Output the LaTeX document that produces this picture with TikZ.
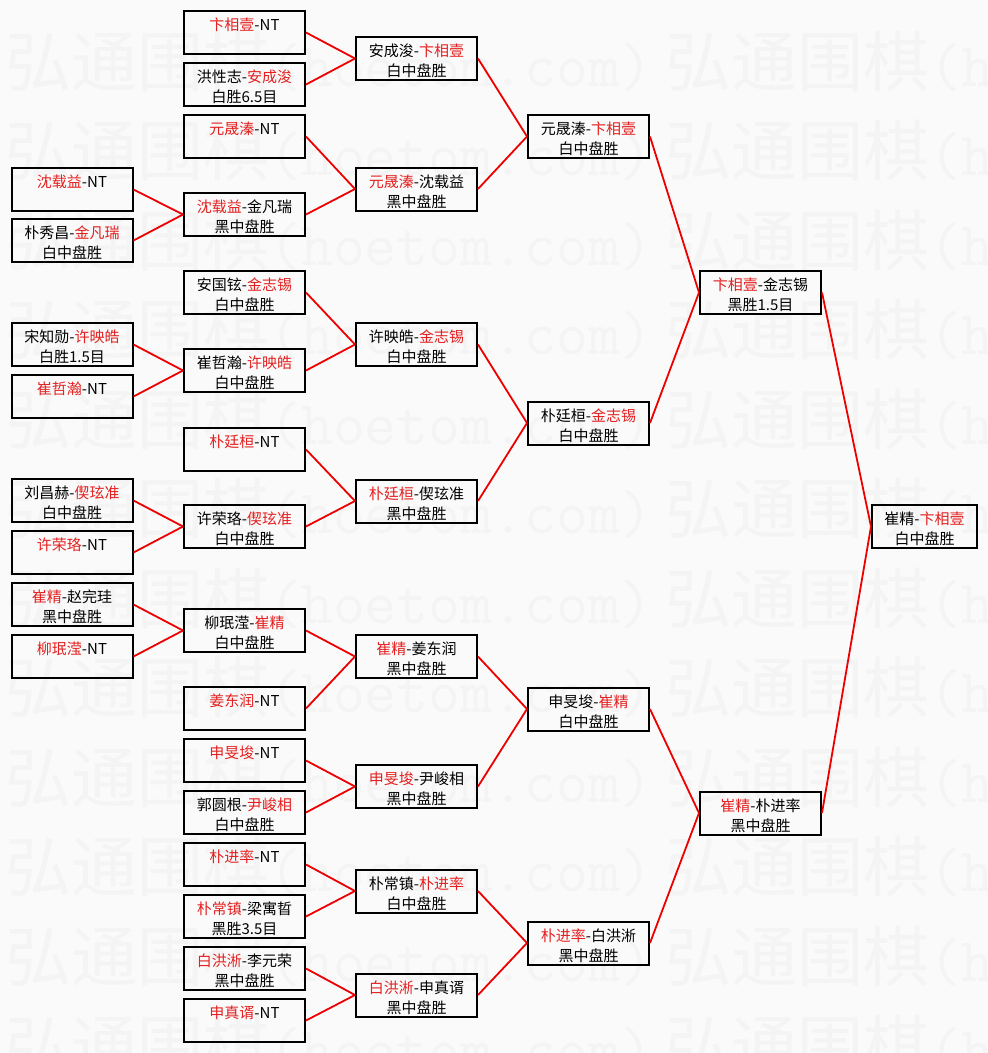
\documentclass[tikz,border=0pt]{standalone}
\usepackage{fontspec}
\setmainfont{Noto Sans CJK SC}
\newfontfamily\wmcjk{Noto Sans CJK SC}
\definecolor{nred}{RGB}{228,32,32}
\definecolor{lred}{RGB}{238,0,0}
\definecolor{bgc}{RGB}{250,250,250}
\definecolor{wmc}{RGB}{244,244,244}
\newcommand\R[1]{\textcolor{nred}{#1}}
\newcommand\two[2]{\rule{0pt}{18pt}#1\\\rule[-2pt]{0pt}{2pt}#2}
\newcommand\wmtext{{\wmcjk\fontsize{66}{70}\selectfont 弘通围棋}{\ttfamily\fontsize{62}{66}\selectfont (hoetom.com)}}
\begin{document}
\begin{tikzpicture}[x=1pt,y=-1pt,
  box/.style={draw=black, line width=2pt, minimum width=121pt, minimum height=43pt,
    inner sep=0pt, align=center, font=\fontsize{15}{20}\selectfont},
  link/.style={draw=lred, line width=1.8pt},
  wm/.style={anchor=base west, text=wmc, inner sep=0pt}]
\fill[bgc] (0,0) rectangle (988,1053);
\useasboundingbox (0,0) rectangle (988,1053);
\begin{scope}
\clip (0,0) rectangle (988,1053);
\foreach \k in {0,...,11}{
  \node[wm] (wma\k) at (5,{86+89.5*\k}) {\wmtext};
  \node[wm] (wmb\k) at (665,{86+89.5*\k}) {\wmtext};
}
\end{scope}
% column 1
\node[box] (a1) at (72,189.5) {\two{\R{沈载益}-NT}{}};
\node[box] (a2) at (72,240.5) {\two{朴秀昌-\R{金凡瑞}}{白中盘胜}};
\node[box] (a3) at (72,344.5) {\two{宋知勋-\R{许映皓}}{白胜1.5目}};
\node[box] (a4) at (72,396.5) {\two{\R{崔哲瀚}-NT}{}};
\node[box] (a5) at (72,500.5) {\two{刘昌赫-\R{偰玹准}}{白中盘胜}};
\node[box] (a6) at (72,552.5) {\two{\R{许荣珞}-NT}{}};
\node[box] (a7) at (72,604.5) {\two{\R{崔精}-赵完珪}{黑中盘胜}};
\node[box] (a8) at (72,656.5) {\two{\R{柳珉滢}-NT}{}};
% column 2
\node[box] (b1) at (244.5,32.5) {\two{\R{卞相壹}-NT}{}};
\node[box] (b2) at (244.5,84.5) {\two{洪性志-\R{安成浚}}{白胜6.5目}};
\node[box] (b3) at (244.5,136.5) {\two{\R{元晟溱}-NT}{}};
\node[box] (b4) at (244.5,214.5) {\two{\R{沈载益}-金凡瑞}{黑中盘胜}};
\node[box] (b5) at (244.5,292.5) {\two{安国铉-\R{金志锡}}{白中盘胜}};
\node[box] (b6) at (244.5,370.5) {\two{崔哲瀚-\R{许映皓}}{白中盘胜}};
\node[box] (b7) at (244.5,449.5) {\two{\R{朴廷桓}-NT}{}};
\node[box] (b8) at (244.5,526.5) {\two{许荣珞-\R{偰玹准}}{白中盘胜}};
\node[box] (b9) at (244.5,630.5) {\two{柳珉滢-\R{崔精}}{白中盘胜}};
\node[box] (b10) at (244.5,708.5) {\two{\R{姜东润}-NT}{}};
\node[box] (b11) at (244.5,760.5) {\two{\R{申旻埈}-NT}{}};
\node[box] (b12) at (244.5,812.5) {\two{郭圆根-\R{尹峻相}}{白中盘胜}};
\node[box] (b13) at (244.5,864.5) {\two{\R{朴进率}-NT}{}};
\node[box] (b14) at (244.5,916.5) {\two{\R{朴常镇}-梁寓晢}{黑胜3.5目}};
\node[box] (b15) at (244.5,968.5) {\two{\R{白洪淅}-李元荣}{黑中盘胜}};
\node[box] (b16) at (244.5,1020.5) {\two{\R{申真谞}-NT}{}};
% column 3
\node[box] (c1) at (416.5,58.5) {\two{安成浚-\R{卞相壹}}{白中盘胜}};
\node[box] (c2) at (416.5,189) {\two{\R{元晟溱}-沈载益}{黑中盘胜}};
\node[box] (c3) at (416.5,344.5) {\two{许映皓-\R{金志锡}}{白中盘胜}};
\node[box] (c4) at (416.5,501) {\two{\R{朴廷桓}-偰玹准}{黑中盘胜}};
\node[box] (c5) at (416.5,656.5) {\two{\R{崔精}-姜东润}{黑中盘胜}};
\node[box] (c6) at (416.5,786.5) {\two{\R{申旻埈}-尹峻相}{黑中盘胜}};
\node[box] (c7) at (416.5,891) {\two{朴常镇-\R{朴进率}}{白中盘胜}};
\node[box] (c8) at (416.5,995) {\two{\R{白洪淅}-申真谞}{黑中盘胜}};
% column 4
\node[box] (d1) at (588.5,136.5) {\two{元晟溱-\R{卞相壹}}{白中盘胜}};
\node[box] (d2) at (588.5,423) {\two{朴廷桓-\R{金志锡}}{白中盘胜}};
\node[box] (d3) at (588.5,709) {\two{申旻埈-\R{崔精}}{白中盘胜}};
\node[box] (d4) at (588.5,943) {\two{\R{朴进率}-白洪淅}{黑中盘胜}};
% column 5
\node[box] (e1) at (760.5,292.5) {\two{\R{卞相壹}-金志锡}{黑胜1.5目}};
\node[box] (e2) at (760.5,813) {\two{\R{崔精}-朴进率}{黑中盘胜}};
% final
\node[box, minimum width=105pt] (f) at (924.5,526.5) {\two{崔精-\R{卞相壹}}{白中盘胜}};
% connectors
\foreach \s/\t in {a1/b4,a2/b4,a3/b6,a4/b6,a5/b8,a6/b8,a7/b9,a8/b9,
  b1/c1,b2/c1,b3/c2,b4/c2,b5/c3,b6/c3,b7/c4,b8/c4,b9/c5,b10/c5,b11/c6,b12/c6,b13/c7,b14/c7,b15/c8,b16/c8,
  c1/d1,c2/d1,c3/d2,c4/d2,c5/d3,c6/d3,c7/d4,c8/d4,
  d1/e1,d2/e1,d3/e2,d4/e2,e1/f,e2/f}
  \draw[link] (\s.east) -- (\t.west);
\end{tikzpicture}
\end{document}
